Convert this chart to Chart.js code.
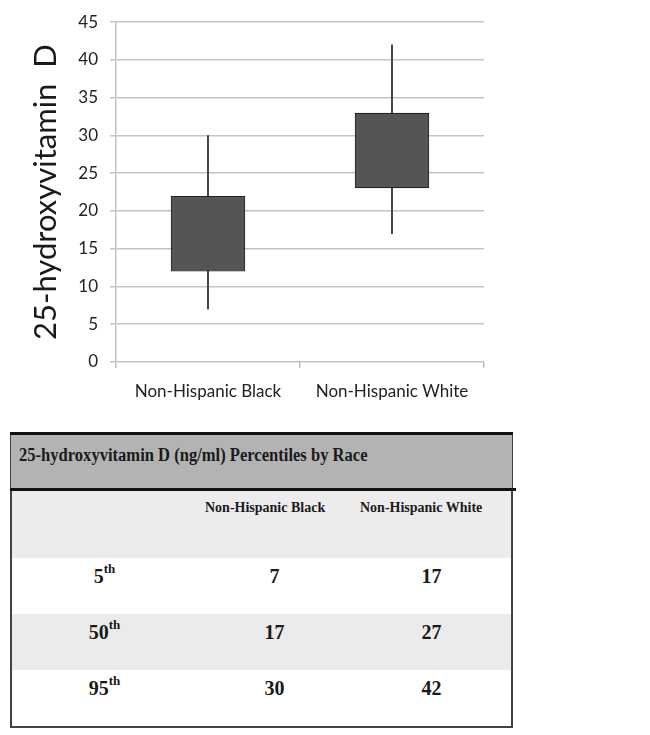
<!DOCTYPE html>
<html>
<head>
<meta charset="utf-8">
<script src="https://cdn.jsdelivr.net/npm/chart.js@4/dist/chart.umd.min.js"></script>
<style>
  html, body { margin: 0; padding: 0; background: #fff; }
  body { width: 650px; height: 735px; position: relative; overflow: hidden; }
  #chartBox { position: absolute; left: 0; top: 0; width: 500px; height: 420px; }
  #tbl { position: absolute; left: 10px; top: 432px; width: 503px; font-family: "Liberation Serif", "Times New Roman", serif; font-weight: bold; color: #1a1a1a; }
  .topline { height: 3px; background: #111; }
  .band { height: 53px; background: #b3b3b3; border-left: 1.5px solid #444; border-right: 1.5px solid #444; box-sizing: border-box; font-size: 18px; padding-left: 8px; line-height: 40px; white-space: nowrap; }
  .band span { display: inline-block; transform: scaleX(0.92); transform-origin: left center; }
  .midline { height: 3px; background: #111; width: 506px; }
  .row { display: flex; box-sizing: border-box; border-left: 2px solid #444; border-right: 2px solid #444; }
  .row div { box-sizing: border-box; }
  .c1 { width: 185px; } .c2 { width: 155px; } .c3 { width: 159px; }
  .hdr { height: 67px; background: #ececec; font-size: 14px; }
  .hdr .c2, .hdr .c3 { padding-left: 8px; padding-top: 9px; }
  .val { height: 56px; font-size: 20px; text-align: center; padding-top: 7px; }
  .val sup { font-size: 13px; vertical-align: 10px; line-height: 0; }
  .g { background: #ebebeb; }
  .w { background: #fff; }
  .bottom { height: 2px; background: #444; }
</style>
</head>
<body>
<div id="chartBox"><canvas id="c"></canvas></div>
<div id="tbl"></div>
<script>
// ---- data ----
const categories = ["Non-Hispanic Black", "Non-Hispanic White"];
const boxLow = [12, 23];
const boxHigh = [22, 33];
const whiskerLow = [7, 17];
const whiskerHigh = [30, 42];
const yTicks = [0, 5, 10, 15, 20, 25, 30, 35, 40, 45];
const yTitle = "25-hydroxyvitamin  D";

const tableTitle = "25-hydroxyvitamin D (ng/ml) Percentiles by Race";
const percentileLabels = ["5", "50", "95"];
const p5 = [7, 17];
const p50 = [17, 27];
const p95 = [30, 42];

// ---- chart ----
const boxData = categories.map((c, i) => [boxLow[i], boxHigh[i]]);
const whiskerData = categories.map((c, i) => [whiskerLow[i], whiskerHigh[i]]);

new Chart(document.getElementById('c'), {
  type: 'bar',
  data: {
    labels: categories,
    datasets: [
      {
        label: 'box',
        data: boxData,
        backgroundColor: '#555555',
        borderColor: '#222222',
        borderWidth: 1.2,
        borderSkipped: false,
        barPercentage: 0.405,
        categoryPercentage: 1,
        order: 1
      },
      {
        label: 'whisker',
        data: whiskerData,
        backgroundColor: '#444444',
        borderWidth: 0,
        barThickness: 1.3,
        order: 2
      }
    ]
  },
  options: {
    responsive: true,
    maintainAspectRatio: false,
    animation: false,
    devicePixelRatio: 1,
    layout: { padding: { top: 18, right: 16, left: 0, bottom: 0 } },
    plugins: { legend: { display: false }, tooltip: { enabled: false } },
    grouped: false,
    scales: {
      x: {
        grid: { drawOnChartArea: false, drawTicks: true, tickLength: 6, color: '#bdbdbd', lineWidth: 1.5 },
        border: { display: false },
        ticks: { color: '#222', font: { family: 'Lato', size: 17 }, padding: 13 },
        afterFit: (s) => { s.height = 58; }
      },
      y: {
        min: 0, max: 45,
        afterBuildTicks: (s) => { s.ticks = yTicks.map(v => ({ value: v })); },
        grid: { color: '#c4c4c4', lineWidth: 1.5, tickLength: 6 },
        border: { color: '#c4c4c4', width: 1.5 },
        ticks: { color: '#222', font: { family: 'Lato', size: 17 }, padding: 12 },
        title: { display: true, text: yTitle, color: '#1a1a1a', font: { family: 'Lato', size: 31 }, padding: { top: 27, bottom: 0 } },
        afterFit: (s) => { s.width = 116; }
      }
    }
  }
});

// ---- table ----
const tbl = document.getElementById('tbl');
let html = '<div class="topline"></div>';
html += '<div class="band"><span>' + tableTitle + '</span></div>';
html += '<div class="midline"></div>';
html += '<div class="row hdr"><div class="c1"></div><div class="c2">' + categories[0] + '</div><div class="c3">' + categories[1] + '</div></div>';
const rows = [p5, p50, p95];
rows.forEach((r, i) => {
  html += '<div class="row val ' + (i % 2 === 0 ? 'w' : 'g') + '"><div class="c1">' + percentileLabels[i] + '<sup>th</sup></div><div class="c2">' + r[0] + '</div><div class="c3">' + r[1] + '</div></div>';
});
html += '<div class="bottom"></div>';
tbl.innerHTML = html;
</script>
</body>
</html>
